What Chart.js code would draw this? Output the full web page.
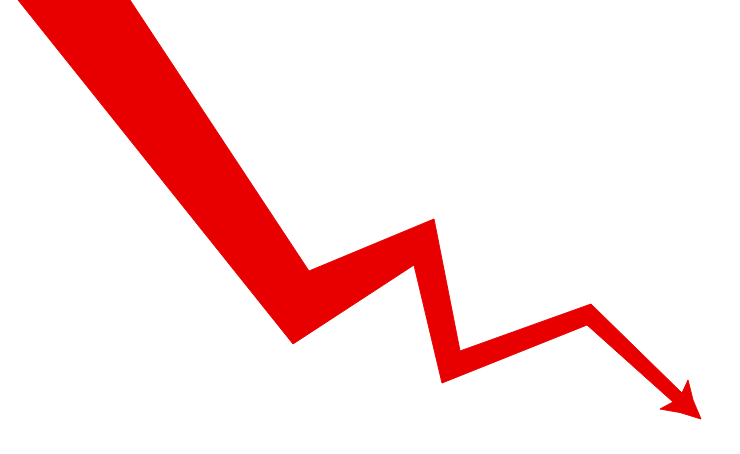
<!DOCTYPE html>
<html>
<head>
<meta charset="utf-8">
<script src="https://cdn.jsdelivr.net/npm/chart.js@4/dist/chart.umd.min.js"></script>
<style>
  html, body { margin: 0; padding: 0; background: #fff; }
  #wrap { width: 740px; height: 454px; }
</style>
</head>
<body>
<div id="wrap"><canvas id="arrowChart" width="740" height="454"></canvas></div>
<script>
// outline of the falling arrow, walked clockwise (x across, y = value up)
const outlineX = [130, 309, 434, 460, 591, 682, 688, 693, 701, 680, 660, 673, 587, 442, 414, 293, 18, 130];
const outlineY = [454, 183, 235, 103, 150, 61, 74, 54, 35, 41.5, 45, 52, 129, 71, 189, 110, 454, 454];

const points = outlineX.map((x, i) => ({ x: x, y: outlineY[i] }));

const ctx = document.getElementById('arrowChart').getContext('2d');

const arrowChart = new Chart(ctx, {
  type: 'line',
  data: {
    datasets: [{
      label: 'Decline',
      data: points,
      fill: 'shape',
      backgroundColor: '#E80000',
      borderColor: '#E80000',
      borderWidth: 1,
      pointRadius: 0,
      tension: 0
    }]
  },
  options: {
    responsive: false,
    animation: false,
    layout: { padding: 0 },
    plugins: {
      legend: { display: false },
      tooltip: { enabled: false }
    },
    scales: {
      x: { type: 'linear', min: 0, max: 740, display: false },
      y: { type: 'linear', min: 0, max: 454, display: false }
    }
  }
});
</script>
</body>
</html>
